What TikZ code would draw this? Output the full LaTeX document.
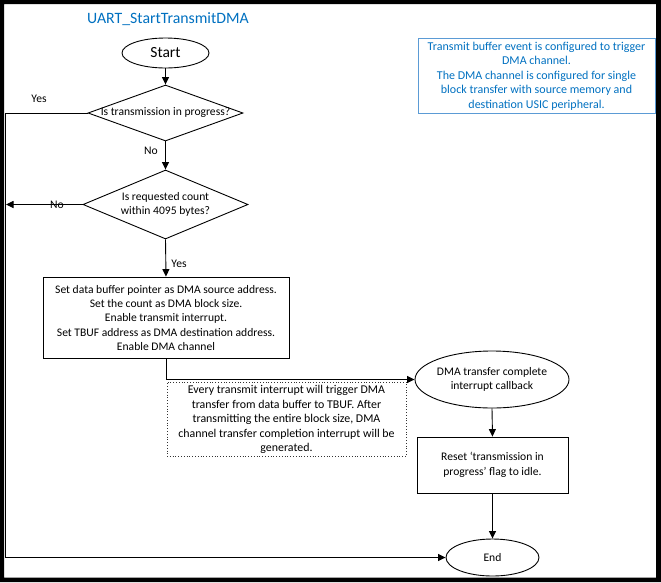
\documentclass[tikz,border=0pt]{standalone}
\usepackage{fontspec}
\setmainfont{Carlito}
\usetikzlibrary{shapes.geometric,arrows.meta}
\definecolor{tblue}{RGB}{0,112,192}
\definecolor{nblue}{RGB}{91,155,213}
\begin{document}
\begin{tikzpicture}[x=1pt,y=-1pt,
  flow/.style={draw=black,line width=0.9pt},
  arr/.style={flow,-{Triangle[length=7.5pt,width=7pt]}},
  txt/.style={font=\fontsize{11.6}{14.3}\selectfont,align=center,inner sep=0pt},
  shp/.style={draw=black,line width=0.9pt,inner sep=0pt,fill=white},
  ell/.style={shp,ellipse},
  dia/.style={shp,diamond},
  boxx/.style={shp,rectangle}
]
\useasboundingbox (0,0) rectangle (661,582);
\fill[black,even odd rule] (0,0) rectangle (661,582) (4,4) rectangle (656,577.5);

% title
\node[font=\fontsize{15.8}{18}\selectfont,text=tblue,inner sep=0pt] (title) at (168,19) {UART\_StartTransmitDMA};

% blue note
\node[draw=nblue,line width=1pt,minimum width=237pt,minimum height=75pt,inner sep=0pt] (bnote) at (536.5,75.5) {};
\node[txt,text=tblue,font=\fontsize{12}{14.6}\selectfont] (bnotetxt) at (536.5,76) {Transmit buffer event is configured to trigger\\DMA channel.\\The DMA channel is configured for single\\block transfer with source memory and\\destination USIC peripheral.};

% shapes
\node[ell,minimum width=87pt,minimum height=30pt] (start) at (165.5,53) {};
\node[txt,font=\fontsize{15.5}{17}\selectfont] (starttxt) at (start) {Start};

\node[dia,minimum width=155pt,minimum height=56pt] (d1) at (165.5,113) {};
\node[txt] (d1txt) at (d1) {Is transmission in progress?};

\node[dia,minimum width=165pt,minimum height=69pt] (d2) at (165.5,204.5) {};
\node[txt] (d2txt) at (d2) {Is requested count\\within 4095 bytes?};

\node[boxx,minimum width=246pt,minimum height=81pt] (box1) at (166,317.5) {};
\node[txt] (box1txt) at (166,318) {Set data buffer pointer as DMA source address.\\Set the count as DMA block size.\\Enable transmit interrupt.\\Set TBUF address as DMA destination address.\\Enable DMA channel};

\node[draw=black!80,dotted,line width=0.8pt,minimum width=239.5pt,minimum height=74pt,inner sep=0pt] (note) at (286.75,419) {};
\node[txt,font=\fontsize{11.9}{14.5}\selectfont] (notetxt) at (286.5,419.5) {Every transmit interrupt will trigger DMA\\transfer from data buffer to TBUF. After\\transmitting the entire block size, DMA\\channel transfer completion interrupt will be\\generated.};

\node[ell,minimum width=154pt,minimum height=57pt] (dma) at (492,379.5) {};
\node[txt] (dmatxt) at (dma) {DMA transfer complete\\interrupt callback};

\node[boxx,minimum width=151pt,minimum height=56pt] (box2) at (492.5,465) {};
\node[txt,font=\fontsize{11.6}{15}\selectfont] (box2txt) at (box2) {Reset ‘transmission in\\progress’ flag to idle.};

\node[ell,minimum width=93pt,minimum height=37pt] (end) at (492.5,557.5) {};
\node[txt] (endtxt) at (end) {End};

% connectors
\coordinate (L1) at (5.5,113);
\coordinate (L2) at (6,204.5);
\draw[arr] (start.south) -- (d1.north);
\draw[arr] (d1.south) -- (d2.north);
\draw[arr] (d1.west) -- (L1) |- (end.west);
\draw[arr] (d2.west) -- (L2);
\draw[arr] (d2.south) -- (box1.north);
\draw[arr] (box1.south) |- (dma.west);
\draw[arr] (dma.south) -- (box2.north);
\draw[arr] (box2.south) -- (end.north);

% labels
\node[txt] (yes1) at (39,99) {Yes};
\node[txt] (no1) at (151,151) {No};
\node[txt] (no2) at (57,205) {No};
\node[txt] (yes2) at (179,264) {Yes};
\end{tikzpicture}
\end{document}
